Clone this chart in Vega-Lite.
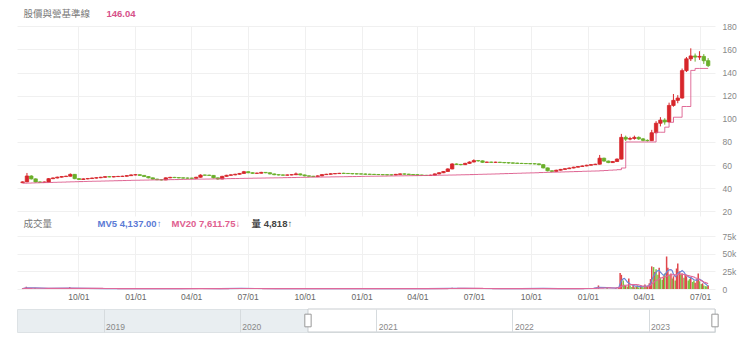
{
"$schema": "https://vega.github.io/schema/vega-lite/v6.json",
"padding": {"left": 14, "top": 9, "right": 2, "bottom": 0},
"background": "white",
"bounds": "flush",
"spacing": 20,
"resolve": {
  "scale": {"color": "independent", "stroke": "independent", "strokeDash": "independent", "opacity": "independent"},
  "legend": {"color": "independent", "stroke": "independent", "strokeDash": "independent", "opacity": "independent"}
},
"config": {
  "font": "Liberation Sans, Noto Sans CJK TC, sans-serif",
  "view": {"stroke": null},
  "axis": {"labelColor": "#777", "labelFontSize": 8.5, "domain": false, "ticks": false, "tickSize": 0, "gridColor": "#f0f0f0", "gridWidth": 1, "labelPadding": 7, "labelOverlap": false, "labelBound": false, "labelFlush": false},
  "legend": {"symbolSize": 0, "symbolOpacity": 0, "symbolStrokeWidth": 0, "labelOffset": 0, "padding": 0, "labelFontSize": 9.5, "labelFontWeight": "bold", "orient": "none", "direction": "horizontal", "title": null}
},
"datasets": {
"price": [
{"d":"2020-07-03","o":44.8,"h":45.9,"l":44.5,"c":45.5,"b":44.35},
{"d":"2020-07-10","o":45.5,"h":53.2,"l":45.3,"c":50.6,"b":44.45},
{"d":"2020-07-17","o":50.6,"h":51.2,"l":47.6,"c":48.1,"b":44.6},
{"d":"2020-07-24","o":48.1,"h":48.5,"l":45.0,"c":45.4,"b":44.7},
{"d":"2020-07-31","o":45.4,"h":45.9,"l":44.8,"c":45.2,"b":44.8},
{"d":"2020-08-07","o":45.2,"h":45.8,"l":44.9,"c":45.3,"b":44.9},
{"d":"2020-08-14","o":45.3,"h":48.8,"l":45.1,"c":48.3,"b":45.0},
{"d":"2020-08-21","o":48.3,"h":49.3,"l":47.9,"c":48.9,"b":45.1},
{"d":"2020-08-28","o":48.9,"h":50.0,"l":48.5,"c":49.6,"b":45.2},
{"d":"2020-09-04","o":49.6,"h":50.6,"l":49.2,"c":50.1,"b":45.3},
{"d":"2020-09-11","o":50.1,"h":50.9,"l":49.7,"c":50.4,"b":45.45},
{"d":"2020-09-18","o":50.4,"h":52.8,"l":50.1,"c":52.0,"b":45.55},
{"d":"2020-09-25","o":52.0,"h":52.3,"l":47.8,"c":48.3,"b":45.65},
{"d":"2020-10-02","o":48.3,"h":48.7,"l":47.2,"c":47.6,"b":45.75},
{"d":"2020-10-09","o":47.6,"h":48.5,"l":47.3,"c":48.1,"b":45.85},
{"d":"2020-10-16","o":48.1,"h":48.9,"l":47.7,"c":48.4,"b":45.95},
{"d":"2020-10-23","o":48.4,"h":49.2,"l":48.0,"c":48.8,"b":46.05},
{"d":"2020-10-30","o":48.8,"h":49.5,"l":48.4,"c":49.1,"b":46.1},
{"d":"2020-11-06","o":49.1,"h":49.9,"l":48.7,"c":49.5,"b":46.2},
{"d":"2020-11-13","o":49.5,"h":50.5,"l":49.1,"c":50.0,"b":46.3},
{"d":"2020-11-20","o":50.0,"h":50.6,"l":49.5,"c":49.8,"b":46.4},
{"d":"2020-11-27","o":49.8,"h":50.5,"l":49.4,"c":50.1,"b":46.5},
{"d":"2020-12-04","o":50.1,"h":50.7,"l":49.7,"c":50.2,"b":46.55},
{"d":"2020-12-11","o":50.2,"h":50.8,"l":49.8,"c":50.4,"b":46.65},
{"d":"2020-12-18","o":50.4,"h":51.3,"l":50.0,"c":50.9,"b":46.75},
{"d":"2020-12-25","o":50.9,"h":52.0,"l":50.6,"c":51.5,"b":46.85},
{"d":"2021-01-01","o":51.5,"h":52.2,"l":51.1,"c":51.7,"b":46.9},
{"d":"2021-01-08","o":51.7,"h":52.0,"l":50.7,"c":51.1,"b":47.0},
{"d":"2021-01-15","o":51.1,"h":51.4,"l":49.7,"c":50.1,"b":47.05},
{"d":"2021-01-22","o":50.1,"h":50.4,"l":48.6,"c":49.0,"b":47.15},
{"d":"2021-01-29","o":49.0,"h":49.3,"l":47.5,"c":47.9,"b":47.2},
{"d":"2021-02-05","o":47.9,"h":48.2,"l":47.0,"c":47.4,"b":47.25},
{"d":"2021-02-12","o":47.4,"h":47.8,"l":46.8,"c":47.2,"b":47.3},
{"d":"2021-02-19","o":47.2,"h":49.4,"l":47.0,"c":49.0,"b":47.4},
{"d":"2021-02-26","o":49.0,"h":49.9,"l":48.7,"c":49.4,"b":47.45},
{"d":"2021-03-05","o":49.4,"h":49.8,"l":48.8,"c":49.2,"b":47.5},
{"d":"2021-03-12","o":49.2,"h":49.6,"l":48.6,"c":49.0,"b":47.6},
{"d":"2021-03-19","o":49.0,"h":49.4,"l":48.4,"c":48.8,"b":47.65},
{"d":"2021-03-26","o":48.8,"h":49.2,"l":48.3,"c":48.7,"b":47.7},
{"d":"2021-04-02","o":48.7,"h":49.1,"l":48.2,"c":48.6,"b":47.75},
{"d":"2021-04-09","o":48.6,"h":49.9,"l":48.3,"c":49.5,"b":47.85},
{"d":"2021-04-16","o":49.5,"h":52.0,"l":49.2,"c":51.4,"b":47.9},
{"d":"2021-04-23","o":51.4,"h":51.8,"l":50.9,"c":51.3,"b":47.95},
{"d":"2021-04-30","o":51.3,"h":51.7,"l":50.6,"c":51.1,"b":48.0},
{"d":"2021-05-07","o":51.1,"h":51.4,"l":48.6,"c":49.0,"b":48.1},
{"d":"2021-05-14","o":49.0,"h":49.3,"l":47.3,"c":48.0,"b":48.15},
{"d":"2021-05-21","o":48.0,"h":50.7,"l":47.8,"c":50.3,"b":48.2},
{"d":"2021-05-28","o":50.3,"h":51.6,"l":50.0,"c":51.2,"b":48.3},
{"d":"2021-06-04","o":51.2,"h":52.0,"l":50.8,"c":51.6,"b":48.35},
{"d":"2021-06-11","o":51.6,"h":52.5,"l":51.2,"c":52.1,"b":48.4},
{"d":"2021-06-18","o":52.1,"h":53.2,"l":51.8,"c":52.8,"b":48.5},
{"d":"2021-06-25","o":52.8,"h":55.0,"l":52.5,"c":54.3,"b":48.55},
{"d":"2021-07-02","o":54.3,"h":54.6,"l":53.0,"c":53.4,"b":48.6},
{"d":"2021-07-09","o":53.4,"h":53.7,"l":52.5,"c":52.9,"b":48.7},
{"d":"2021-07-16","o":52.9,"h":53.5,"l":52.5,"c":53.0,"b":48.75},
{"d":"2021-07-23","o":53.0,"h":54.2,"l":52.7,"c":53.7,"b":48.8},
{"d":"2021-07-30","o":53.7,"h":54.0,"l":53.0,"c":53.4,"b":48.9},
{"d":"2021-08-06","o":53.4,"h":53.7,"l":52.0,"c":52.4,"b":48.95},
{"d":"2021-08-13","o":52.4,"h":52.7,"l":51.3,"c":51.7,"b":49.0},
{"d":"2021-08-20","o":51.7,"h":52.0,"l":51.1,"c":51.5,"b":49.05},
{"d":"2021-08-27","o":51.5,"h":51.9,"l":50.9,"c":51.3,"b":49.15},
{"d":"2021-09-03","o":51.3,"h":51.9,"l":51.0,"c":51.5,"b":49.2},
{"d":"2021-09-10","o":51.5,"h":52.1,"l":51.2,"c":51.7,"b":49.25},
{"d":"2021-09-17","o":51.7,"h":53.6,"l":51.4,"c":52.4,"b":49.35},
{"d":"2021-09-24","o":52.4,"h":52.7,"l":51.1,"c":51.5,"b":49.4},
{"d":"2021-10-01","o":51.5,"h":51.8,"l":50.3,"c":50.7,"b":49.45},
{"d":"2021-10-08","o":50.7,"h":51.0,"l":50.0,"c":50.4,"b":49.55},
{"d":"2021-10-15","o":50.4,"h":50.7,"l":49.7,"c":50.1,"b":49.6},
{"d":"2021-10-22","o":50.1,"h":51.1,"l":49.8,"c":50.7,"b":49.65},
{"d":"2021-10-29","o":50.7,"h":52.2,"l":50.4,"c":51.8,"b":49.7},
{"d":"2021-11-05","o":51.8,"h":52.5,"l":51.5,"c":52.1,"b":49.75},
{"d":"2021-11-12","o":52.1,"h":52.9,"l":51.8,"c":52.5,"b":49.85},
{"d":"2021-11-19","o":52.5,"h":53.1,"l":52.2,"c":52.7,"b":49.9},
{"d":"2021-11-26","o":52.7,"h":53.3,"l":52.4,"c":52.9,"b":49.95},
{"d":"2021-12-03","o":52.9,"h":53.4,"l":52.4,"c":52.8,"b":50.0},
{"d":"2021-12-10","o":52.8,"h":53.1,"l":52.3,"c":52.7,"b":50.05},
{"d":"2021-12-17","o":52.7,"h":53.0,"l":52.1,"c":52.5,"b":50.1},
{"d":"2021-12-24","o":52.5,"h":52.9,"l":52.0,"c":52.4,"b":50.15},
{"d":"2021-12-31","o":52.4,"h":52.8,"l":51.9,"c":52.3,"b":50.25},
{"d":"2022-01-07","o":52.3,"h":52.7,"l":51.7,"c":52.1,"b":50.3},
{"d":"2022-01-14","o":52.1,"h":52.5,"l":51.6,"c":52.0,"b":50.35},
{"d":"2022-01-21","o":52.0,"h":52.4,"l":51.5,"c":51.9,"b":50.4},
{"d":"2022-01-28","o":51.9,"h":52.3,"l":51.4,"c":51.8,"b":50.45},
{"d":"2022-02-04","o":51.8,"h":52.2,"l":51.3,"c":51.7,"b":50.5},
{"d":"2022-02-11","o":51.7,"h":52.1,"l":51.2,"c":51.6,"b":50.6},
{"d":"2022-02-18","o":51.6,"h":52.0,"l":51.1,"c":51.5,"b":50.65},
{"d":"2022-02-25","o":51.5,"h":52.4,"l":51.2,"c":52.0,"b":50.7},
{"d":"2022-03-04","o":52.0,"h":52.8,"l":51.7,"c":52.4,"b":50.75},
{"d":"2022-03-11","o":52.4,"h":52.7,"l":51.8,"c":52.2,"b":50.8},
{"d":"2022-03-18","o":52.2,"h":52.5,"l":51.5,"c":51.9,"b":50.85},
{"d":"2022-03-25","o":51.9,"h":52.2,"l":51.3,"c":51.7,"b":50.9},
{"d":"2022-04-01","o":51.7,"h":52.0,"l":51.0,"c":51.4,"b":50.95},
{"d":"2022-04-08","o":51.4,"h":51.7,"l":50.8,"c":51.2,"b":51.0},
{"d":"2022-04-15","o":51.2,"h":51.5,"l":50.6,"c":51.0,"b":51.1},
{"d":"2022-04-22","o":51.0,"h":51.7,"l":50.8,"c":51.3,"b":51.15},
{"d":"2022-04-29","o":51.3,"h":52.8,"l":51.0,"c":52.4,"b":51.2},
{"d":"2022-05-06","o":52.4,"h":53.8,"l":52.1,"c":53.4,"b":51.25},
{"d":"2022-05-13","o":53.4,"h":54.9,"l":53.1,"c":54.5,"b":51.3},
{"d":"2022-05-20","o":54.5,"h":57.2,"l":54.2,"c":56.7,"b":51.4},
{"d":"2022-05-27","o":56.7,"h":61.6,"l":56.4,"c":61.0,"b":51.45},
{"d":"2022-06-03","o":61.0,"h":61.4,"l":60.1,"c":60.6,"b":51.55},
{"d":"2022-06-10","o":60.6,"h":61.0,"l":59.8,"c":60.4,"b":51.65},
{"d":"2022-06-17","o":60.4,"h":62.0,"l":60.1,"c":61.5,"b":51.7},
{"d":"2022-06-24","o":61.5,"h":63.2,"l":61.2,"c":62.7,"b":51.8},
{"d":"2022-07-01","o":62.7,"h":65.0,"l":62.4,"c":63.9,"b":51.9},
{"d":"2022-07-08","o":63.9,"h":64.3,"l":63.0,"c":63.7,"b":52.0},
{"d":"2022-07-15","o":63.7,"h":64.0,"l":62.0,"c":62.4,"b":52.1},
{"d":"2022-07-22","o":62.4,"h":63.0,"l":62.0,"c":62.6,"b":52.2},
{"d":"2022-07-29","o":62.6,"h":63.0,"l":61.9,"c":62.4,"b":52.3},
{"d":"2022-08-05","o":62.4,"h":62.9,"l":61.9,"c":62.5,"b":52.4},
{"d":"2022-08-12","o":62.5,"h":62.8,"l":61.8,"c":62.3,"b":52.55},
{"d":"2022-08-19","o":62.3,"h":62.6,"l":61.6,"c":62.1,"b":52.65},
{"d":"2022-08-26","o":62.1,"h":62.4,"l":61.4,"c":61.9,"b":52.75},
{"d":"2022-09-02","o":61.9,"h":62.3,"l":61.3,"c":61.7,"b":52.85},
{"d":"2022-09-09","o":61.7,"h":62.1,"l":61.1,"c":61.5,"b":52.95},
{"d":"2022-09-16","o":61.5,"h":61.9,"l":61.0,"c":61.4,"b":53.1},
{"d":"2022-09-23","o":61.4,"h":61.8,"l":60.9,"c":61.3,"b":53.2},
{"d":"2022-09-30","o":61.3,"h":61.7,"l":60.8,"c":61.2,"b":53.3},
{"d":"2022-10-07","o":61.2,"h":61.6,"l":60.7,"c":61.1,"b":53.4},
{"d":"2022-10-14","o":61.1,"h":61.4,"l":59.9,"c":60.4,"b":53.55},
{"d":"2022-10-21","o":60.4,"h":60.7,"l":57.2,"c":57.6,"b":53.65},
{"d":"2022-10-28","o":57.6,"h":57.9,"l":54.6,"c":55.1,"b":53.75},
{"d":"2022-11-04","o":55.1,"h":55.4,"l":54.0,"c":54.6,"b":53.85},
{"d":"2022-11-11","o":54.6,"h":56.0,"l":54.3,"c":55.6,"b":53.95},
{"d":"2022-11-18","o":55.6,"h":56.7,"l":55.3,"c":56.3,"b":54.1},
{"d":"2022-11-25","o":56.3,"h":57.3,"l":56.0,"c":56.9,"b":54.2},
{"d":"2022-12-02","o":56.9,"h":57.9,"l":56.6,"c":57.5,"b":54.3},
{"d":"2022-12-09","o":57.5,"h":58.6,"l":57.2,"c":58.2,"b":54.4},
{"d":"2022-12-16","o":58.2,"h":59.2,"l":57.9,"c":58.8,"b":54.5},
{"d":"2022-12-23","o":58.8,"h":59.7,"l":58.5,"c":59.3,"b":54.65},
{"d":"2022-12-30","o":59.3,"h":60.3,"l":59.0,"c":59.9,"b":54.75},
{"d":"2023-01-06","o":59.9,"h":60.8,"l":59.6,"c":60.4,"b":54.85},
{"d":"2023-01-13","o":60.4,"h":61.2,"l":60.1,"c":60.8,"b":54.95},
{"d":"2023-01-20","o":60.8,"h":68.8,"l":60.5,"c":66.0,"b":55.15},
{"d":"2023-01-27","o":66.0,"h":66.4,"l":63.0,"c":63.5,"b":55.35},
{"d":"2023-02-03","o":63.5,"h":63.9,"l":61.7,"c":62.2,"b":55.6},
{"d":"2023-02-10","o":62.2,"h":63.6,"l":61.9,"c":63.1,"b":55.8},
{"d":"2023-02-17","o":63.1,"h":65.8,"l":62.8,"c":65.2,"b":56.05},
{"d":"2023-02-24","o":65.2,"h":87.0,"l":65.0,"c":84.0,"b":57.5},
{"d":"2023-03-03","o":84.0,"h":85.5,"l":80.8,"c":82.5,"b":80},
{"d":"2023-03-10","o":82.5,"h":84.5,"l":81.5,"c":83.0,"b":80},
{"d":"2023-03-17","o":83.0,"h":85.5,"l":82.0,"c":84.0,"b":80},
{"d":"2023-03-24","o":84.0,"h":84.8,"l":81.8,"c":82.7,"b":80},
{"d":"2023-03-31","o":82.7,"h":83.5,"l":80.6,"c":81.4,"b":80},
{"d":"2023-04-07","o":81.4,"h":82.2,"l":80.4,"c":81.2,"b":80},
{"d":"2023-04-14","o":81.2,"h":90.5,"l":80.8,"c":88.0,"b":80},
{"d":"2023-04-21","o":88.0,"h":98.0,"l":87.5,"c":96.2,"b":88.4},
{"d":"2023-04-28","o":96.2,"h":101.5,"l":93.5,"c":98.9,"b":88.4},
{"d":"2023-05-05","o":98.9,"h":100.5,"l":95.0,"c":97.3,"b":92.8},
{"d":"2023-05-12","o":97.3,"h":114.0,"l":96.8,"c":111.6,"b":97},
{"d":"2023-05-19","o":111.6,"h":121.5,"l":110.5,"c":116.0,"b":101.4},
{"d":"2023-05-26","o":116.0,"h":120.5,"l":113.5,"c":118.0,"b":101.4},
{"d":"2023-06-02","o":118.0,"h":143.5,"l":117.5,"c":141.7,"b":110.7},
{"d":"2023-06-09","o":141.7,"h":153.5,"l":140.5,"c":151.9,"b":110.7},
{"d":"2023-06-16","o":151.9,"h":161.0,"l":150.0,"c":154.4,"b":141.9},
{"d":"2023-06-23","o":154.4,"h":156.5,"l":149.5,"c":153.4,"b":143.6},
{"d":"2023-06-30","o":153.4,"h":158.5,"l":151.0,"c":154.0,"b":143.6},
{"d":"2023-07-07","o":154.0,"h":156.0,"l":147.5,"c":150.3,"b":143.6},
{"d":"2023-07-14","o":150.3,"h":152.5,"l":144.8,"c":146.04,"b":143.6}
],
"vol": [
{"d":"2020-07-03","v":900,"u":1,"m5":700,"m20":600},
{"d":"2020-07-09","v":3200,"u":1,"m5":1600,"m20":900},
{"d":"2020-07-23","v":1400,"u":0,"m5":1700,"m20":1100},
{"d":"2020-08-14","v":900,"u":1,"m5":1000,"m20":1000},
{"d":"2020-09-17","v":2600,"u":1,"m5":1400,"m20":1000},
{"d":"2020-10-15","v":600,"u":0,"m5":800,"m20":900},
{"d":"2020-11-16","v":500,"u":1,"m5":600,"m20":700},
{"d":"2020-12-15","v":700,"u":1,"m5":600,"m20":650},
{"d":"2021-01-15","v":500,"u":0,"m5":550,"m20":600},
{"d":"2021-02-18","v":800,"u":1,"m5":600,"m20":600},
{"d":"2021-03-15","v":400,"u":0,"m5":500,"m20":550},
{"d":"2021-04-16","v":900,"u":1,"m5":700,"m20":600},
{"d":"2021-05-17","v":700,"u":0,"m5":650,"m20":650},
{"d":"2021-06-21","v":1000,"u":1,"m5":800,"m20":700},
{"d":"2021-07-15","v":600,"u":0,"m5":700,"m20":700},
{"d":"2021-08-16","v":500,"u":0,"m5":550,"m20":600},
{"d":"2021-09-15","v":700,"u":1,"m5":600,"m20":600},
{"d":"2021-10-15","v":400,"u":0,"m5":500,"m20":550},
{"d":"2021-11-15","v":600,"u":1,"m5":550,"m20":550},
{"d":"2021-12-15","v":500,"u":0,"m5":500,"m20":520},
{"d":"2022-01-14","v":400,"u":0,"m5":450,"m20":500},
{"d":"2022-02-15","v":500,"u":0,"m5":450,"m20":480},
{"d":"2022-03-15","v":600,"u":1,"m5":500,"m20":500},
{"d":"2022-04-15","v":500,"u":0,"m5":500,"m20":500},
{"d":"2022-05-27","v":1800,"u":1,"m5":1000,"m20":700},
{"d":"2022-06-15","v":900,"u":0,"m5":900,"m20":800},
{"d":"2022-07-15","v":600,"u":0,"m5":700,"m20":750},
{"d":"2022-08-15","v":500,"u":0,"m5":550,"m20":600},
{"d":"2022-09-15","v":400,"u":0,"m5":450,"m20":500},
{"d":"2022-10-21","v":1200,"u":0,"m5":800,"m20":600},
{"d":"2022-11-15","v":600,"u":1,"m5":650,"m20":650},
{"d":"2022-12-15","v":700,"u":1,"m5":650,"m20":650},
{"d":"2023-01-10","v":900,"u":1,"m5":800,"m20":700},
{"d":"2023-01-18","v":5000,"u":1,"m5":2400,"m20":1200},
{"d":"2023-02-01","v":1500,"u":0,"m5":2000,"m20":1500},
{"d":"2023-02-15","v":1200,"u":1,"m5":1300,"m20":1400},
{"d":"2023-02-20","v":3000,"u":1,"m5":2500,"m20":1800},
{"d":"2023-02-22","v":22500,"u":1,"m5":7000,"m20":2800},
{"d":"2023-02-24","v":20000,"u":1,"m5":11500,"m20":3800},
{"d":"2023-02-27","v":12000,"u":0,"m5":14500,"m20":4500},
{"d":"2023-03-01","v":6000,"u":0,"m5":15000,"m20":5000},
{"d":"2023-03-03","v":4500,"u":1,"m5":13000,"m20":5300},
{"d":"2023-03-06","v":3500,"u":0,"m5":9500,"m20":5500},
{"d":"2023-03-08","v":15000,"u":1,"m5":8500,"m20":6000},
{"d":"2023-03-10","v":5000,"u":0,"m5":7000,"m20":6200},
{"d":"2023-03-13","v":3000,"u":0,"m5":6000,"m20":6300},
{"d":"2023-03-15","v":6000,"u":1,"m5":5500,"m20":6400},
{"d":"2023-03-17","v":2500,"u":0,"m5":4500,"m20":6300},
{"d":"2023-03-20","v":3500,"u":1,"m5":4000,"m20":6200},
{"d":"2023-03-22","v":5000,"u":0,"m5":4000,"m20":6000},
{"d":"2023-03-24","v":2000,"u":0,"m5":3500,"m20":5800},
{"d":"2023-03-27","v":4000,"u":1,"m5":3500,"m20":5000},
{"d":"2023-03-29","v":3000,"u":0,"m5":3500,"m20":4500},
{"d":"2023-03-31","v":2500,"u":0,"m5":3200,"m20":4200},
{"d":"2023-04-03","v":6500,"u":1,"m5":4000,"m20":4000},
{"d":"2023-04-05","v":3000,"u":0,"m5":3800,"m20":3900},
{"d":"2023-04-07","v":4000,"u":1,"m5":4000,"m20":3900},
{"d":"2023-04-10","v":8000,"u":1,"m5":5000,"m20":4200},
{"d":"2023-04-12","v":14000,"u":1,"m5":7500,"m20":5000},
{"d":"2023-04-14","v":32000,"u":1,"m5":13000,"m20":7000},
{"d":"2023-04-17","v":31000,"u":0,"m5":18000,"m20":9000},
{"d":"2023-04-19","v":24000,"u":1,"m5":21000,"m20":10500},
{"d":"2023-04-21","v":28000,"u":0,"m5":24000,"m20":12000},
{"d":"2023-04-24","v":20000,"u":0,"m5":26000,"m20":13000},
{"d":"2023-04-26","v":30000,"u":1,"m5":26500,"m20":14500},
{"d":"2023-04-28","v":16000,"u":0,"m5":24000,"m20":15500},
{"d":"2023-05-01","v":13000,"u":0,"m5":21000,"m20":16000},
{"d":"2023-05-03","v":18000,"u":1,"m5":19500,"m20":16500},
{"d":"2023-05-05","v":22000,"u":0,"m5":20000,"m20":17000},
{"d":"2023-05-08","v":46000,"u":1,"m5":24000,"m20":18000},
{"d":"2023-05-10","v":30000,"u":1,"m5":26000,"m20":19000},
{"d":"2023-05-12","v":20000,"u":0,"m5":27000,"m20":19500},
{"d":"2023-05-15","v":22000,"u":1,"m5":27500,"m20":20000},
{"d":"2023-05-17","v":15000,"u":0,"m5":26000,"m20":20000},
{"d":"2023-05-19","v":18000,"u":1,"m5":21000,"m20":20500},
{"d":"2023-05-22","v":12000,"u":0,"m5":17500,"m20":20000},
{"d":"2023-05-24","v":29000,"u":1,"m5":19000,"m20":20000},
{"d":"2023-05-26","v":36000,"u":1,"m5":22000,"m20":20500},
{"d":"2023-05-29","v":25000,"u":1,"m5":24000,"m20":21000},
{"d":"2023-05-31","v":21000,"u":0,"m5":24500,"m20":21000},
{"d":"2023-06-02","v":22000,"u":1,"m5":26000,"m20":21000},
{"d":"2023-06-05","v":16000,"u":0,"m5":24000,"m20":20500},
{"d":"2023-06-07","v":20000,"u":1,"m5":21000,"m20":20000},
{"d":"2023-06-09","v":18000,"u":1,"m5":19500,"m20":19500},
{"d":"2023-06-12","v":12000,"u":0,"m5":17500,"m20":19000},
{"d":"2023-06-14","v":14000,"u":0,"m5":16000,"m20":18500},
{"d":"2023-06-16","v":17000,"u":1,"m5":16000,"m20":18000},
{"d":"2023-06-19","v":10000,"u":0,"m5":14500,"m20":17500},
{"d":"2023-06-21","v":12000,"u":0,"m5":13000,"m20":17000},
{"d":"2023-06-23","v":9000,"u":1,"m5":12500,"m20":16000},
{"d":"2023-06-26","v":14000,"u":1,"m5":12500,"m20":15000},
{"d":"2023-06-28","v":22000,"u":1,"m5":13500,"m20":14000},
{"d":"2023-06-30","v":11000,"u":0,"m5":14000,"m20":13000},
{"d":"2023-07-03","v":7000,"u":0,"m5":12500,"m20":12000},
{"d":"2023-07-05","v":8000,"u":1,"m5":11000,"m20":11000},
{"d":"2023-07-07","v":5000,"u":0,"m5":9000,"m20":10000},
{"d":"2023-07-10","v":4000,"u":0,"m5":7000,"m20":9000},
{"d":"2023-07-12","v":3500,"u":0,"m5":5500,"m20":8200},
{"d":"2023-07-14","v":4818,"u":1,"m5":4137,"m20":7612}
],
"nav": [{"s":"2020-07-02","e":"2023-06-28"}],
"handles": [{"t":"2020-07-02"},{"t":"2023-06-28"}]
},
"vconcat": [
{
  "width": 698, "height": 190,
  "data": {"name": "price"},
  "encoding": {
    "x": {"field": "d", "type": "temporal",
      "scale": {"domain": [{"year": 2020, "month": 7, "date": 2}, {"year": 2023, "month": 7, "date": 17}], "nice": false},
      "axis": {"labels": false, "grid": true, "title": null,
        "values": [{"year":2020,"month":10,"date":1},{"year":2021,"month":1,"date":1},{"year":2021,"month":4,"date":1},{"year":2021,"month":7,"date":1},{"year":2021,"month":10,"date":1},{"year":2022,"month":1,"date":1},{"year":2022,"month":4,"date":1},{"year":2022,"month":7,"date":1},{"year":2022,"month":10,"date":1},{"year":2023,"month":1,"date":1},{"year":2023,"month":4,"date":1},{"year":2023,"month":7,"date":1}]}}
  },
  "layer": [
    {"mark": {"type": "rule", "strokeWidth": 1},
     "encoding": {
      "y": {"field": "l", "type": "quantitative", "scale": {"domain": [16, 180.3], "nice": false, "zero": false},
        "axis": {"orient": "right", "values": [20,40,60,80,100,120,140,160,180], "title": null, "grid": true, "labelColor": "#888", "labelBound": false, "labelOverlap": false}},
      "y2": {"field": "h"},
      "color": {"condition": {"test": "datum.c >= datum.o", "value": "#d7262b"}, "value": "#6aae2a"}}},
    {"mark": {"type": "bar", "size": 3.4, "strokeWidth": 0.8},
     "encoding": {
      "y": {"field": "o", "type": "quantitative",
        "axis": {"orient": "right", "values": [20,40,60,80,100,120,140,160,180], "title": null, "grid": true, "labelColor": "#888", "labelBound": false, "labelOverlap": false}},
      "y2": {"field": "c"},
      "color": {"condition": {"test": "datum.c >= datum.o", "value": "#d7262b"}, "value": "#6aae2a"},
      "stroke": {"condition": {"test": "datum.c >= datum.o", "value": "#d7262b"}, "value": "#6aae2a"}}},
    {"mark": {"type": "line", "interpolate": "step-after", "strokeWidth": 1},
     "encoding": {
      "y": {"field": "b", "type": "quantitative",
        "axis": {"orient": "right", "values": [20,40,60,80,100,120,140,160,180], "title": null, "grid": true, "labelColor": "#888", "labelBound": false, "labelOverlap": false}},
      "color": {"datum": "146.04", "scale": {"range": ["#dc5b8c"]},
        "legend": {"legendX": 80, "legendY": -17, "labelColor": "#d6518a"}},
      "strokeDash": {"datum": "股價與營基準線", "scale": {"range": [[1, 0]]},
        "legend": {"legendX": -3, "legendY": -17, "labelColor": "#777", "labelFontWeight": "normal", "labelFont": "Noto Sans CJK TC"}}}}
  ]
},
{
  "width": 698, "height": 53,
  "data": {"name": "vol"},
  "encoding": {
    "x": {"field": "d", "type": "temporal",
      "scale": {"domain": [{"year": 2020, "month": 7, "date": 2}, {"year": 2023, "month": 7, "date": 17}], "nice": false},
      "axis": {"format": "%m/%d", "grid": true, "title": null, "labelPadding": 3, "labelColor": "#666",
        "values": [{"year":2020,"month":10,"date":1},{"year":2021,"month":1,"date":1},{"year":2021,"month":4,"date":1},{"year":2021,"month":7,"date":1},{"year":2021,"month":10,"date":1},{"year":2022,"month":1,"date":1},{"year":2022,"month":4,"date":1},{"year":2022,"month":7,"date":1},{"year":2022,"month":10,"date":1},{"year":2023,"month":1,"date":1},{"year":2023,"month":4,"date":1},{"year":2023,"month":7,"date":1}]}}
  },
  "layer": [
    {"mark": {"type": "bar", "size": 1.5},
     "encoding": {
      "y": {"field": "v", "type": "quantitative", "scale": {"domain": [0, 75000], "nice": false},
        "axis": {"orient": "right", "values": [0,25000,50000,75000], "labelExpr": "datum.value == 0 ? '0' : (datum.value / 1000) + 'k'", "title": null, "grid": true, "labelColor": "#888", "labelBound": false}},
      "color": {"condition": {"test": "datum.u == 1", "value": "#e0474c"}, "value": "#7cc242"},
      "opacity": {"datum": "成交量", "scale": {"range": [1, 1]},
        "legend": {"legendX": -3, "legendY": -17, "labelColor": "#777", "labelFontWeight": "normal", "labelFont": "Noto Sans CJK TC"}}}},
    {"mark": {"type": "line", "strokeWidth": 1.2},
     "encoding": {
      "y": {"field": "m5", "type": "quantitative",
        "axis": {"orient": "right", "values": [0,25000,50000,75000], "labelExpr": "datum.value == 0 ? '0' : (datum.value / 1000) + 'k'", "title": null, "grid": true, "labelColor": "#888", "labelBound": false}},
      "color": {"datum": "MV5 4,137.00↑", "scale": {"range": ["#6a86d8"]},
        "legend": {"legendX": 71, "legendY": -17, "labelColor": "#5b7bd5"}}}},
    {"mark": {"type": "line", "strokeWidth": 1.2},
     "encoding": {
      "y": {"field": "m20", "type": "quantitative",
        "axis": {"orient": "right", "values": [0,25000,50000,75000], "labelExpr": "datum.value == 0 ? '0' : (datum.value / 1000) + 'k'", "title": null, "grid": true, "labelColor": "#888", "labelBound": false}},
      "stroke": {"datum": "MV20 7,611.75↓", "scale": {"range": ["#e0689a"]},
        "legend": {"legendX": 145, "legendY": -17, "labelColor": "#e0608f"}},
      "strokeDash": {"datum": "量 4,818↑", "scale": {"range": [[1, 0]]},
        "legend": {"legendX": 225, "legendY": -17, "labelColor": "#444"}}}}
  ]
},
{
  "width": 698, "height": 23,
  "view": {"fill": "#e9eef1", "stroke": "#dde2e5"},
  "layer": [
    {"data": {"name": "nav"},
     "mark": {"type": "rect", "fill": "white", "stroke": "#c9cdd0", "strokeWidth": 1},
     "encoding": {
      "x": {"field": "s", "type": "temporal",
        "scale": {"domain": [{"year": 2018, "month": 5, "date": 14}, {"year": 2023, "month": 6, "date": 28}], "nice": false},
        "axis": {"orient": "bottom", "format": "%Y", "grid": true, "gridColor": "#d6dbde",
          "values": [{"year":2019,"month":1,"date":1},{"year":2020,"month":1,"date":1},{"year":2021,"month":1,"date":1},{"year":2022,"month":1,"date":1},{"year":2023,"month":1,"date":1}],
          "labelAlign": "left", "labelBaseline": "alphabetic", "labelPadding": -3, "labelOffset": 2,
          "labelColor": "#888", "labelFontSize": 8.5, "title": null, "zindex": 1}},
      "x2": {"field": "e"}}},
    {"data": {"name": "handles"},
     "mark": {"type": "point", "shape": "M-0.5,-1L0.5,-1L0.5,1L-0.5,1Z", "size": 160, "filled": true,
       "fill": "white", "stroke": "#999", "strokeWidth": 1, "opacity": 1},
     "encoding": {"x": {"field": "t", "type": "temporal"}}}
  ]
}
]
}
